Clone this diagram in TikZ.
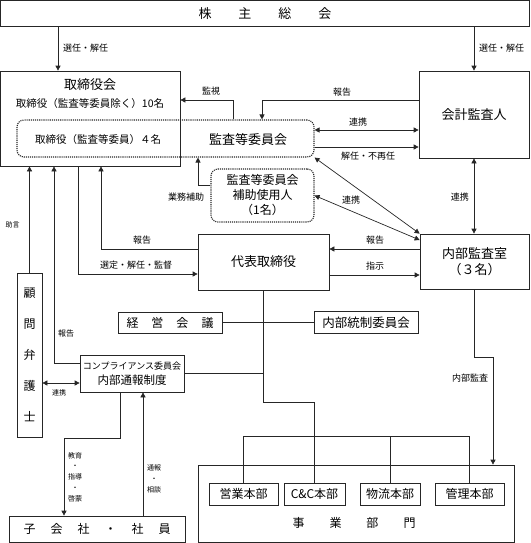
\documentclass[tikz,border=0pt]{standalone}
\usepackage{fontspec}
\setmainfont{Noto Sans CJK JP}
\usetikzlibrary{arrows.meta,calc,positioning}

\tikzset{
  box/.style={draw=black!85, line width=0.7pt, inner sep=0pt, align=center, font=\fontsize{13}{16}\selectfont},
  sbox/.style={box, minimum height=22, font=\fontsize{12}{14}\selectfont},
  dotbox/.style={draw=black!85, line width=1.1pt, densely dotted, rounded corners=7pt, inner sep=0pt, align=center},
  lbl/.style={inner sep=1pt, font=\fontsize{9}{11}\selectfont},
  slbl/.style={inner sep=1pt, align=center, font=\fontsize{7}{10.7}\selectfont},
  arr/.style={draw=black!85, line width=0.7pt, -{Triangle[length=5pt,width=5pt]}},
  darr/.style={draw=black!85, line width=0.7pt, {Triangle[length=5pt,width=5pt]}-{Triangle[length=5pt,width=5pt]}},
  ln/.style={draw=black!85, line width=0.7pt},
}

\begin{document}
\begin{tikzpicture}[x=1pt,y=-1pt]

\useasboundingbox (0,0) rectangle (530,543);

% boxes
\node[box, minimum width=529, minimum height=25.5] (kabu) at (265,13.25) {株\hspace{27pt}主\hspace{27pt}総\hspace{27pt}会};

\node[box, minimum width=179.5, minimum height=95] (tori) at (90.25,118.5) {};
\node[font=\fontsize{13}{15}\selectfont] (toriTitle) at (90,85) {取締役会};
\node[font=\fontsize{10.5}{12}\selectfont] (toriSub) at (90,104) {取締役（監査等委員除く）10名};

\node[dotbox, minimum width=297, minimum height=37] (kansa) at (165.5,138.5) {};
\node[font=\fontsize{10.5}{12}\selectfont] (kansaMem) at (98,140) {取締役（監査等委員）４名};
\node[font=\fontsize{13}{15}\selectfont] (kansaName) at (248,140) {監査等委員会};

\node[box, minimum width=110, minimum height=87] (kaikei) at (474,114.5) {会計監査人};
\node[box, minimum width=109, minimum height=55] (naibu) at (474.5,261.5) {内部監査室\\（３名）};

\node[dotbox, minimum width=103, minimum height=53, font=\fontsize{12}{15}\selectfont] (hojo) at (262.5,195.5) {監査等委員会\\補助使用人\\（1名）};

\node[box, minimum width=131, minimum height=56] (daihyo) at (263.5,262) {代表取締役};

\node[sbox, minimum width=104, minimum height=21] (keiei) at (170,322.5) {経\hspace{13pt}営\hspace{13pt}会\hspace{13pt}議};
\node[sbox, minimum width=104, font=\fontsize{12.5}{14}\selectfont] (tosei) at (366,322.5) {内部統制委員会};

\node[box, minimum width=104, minimum height=37, font=\fontsize{11.5}{15}\selectfont] (comp) at (132,373.5) {{\fontsize{9}{15}\selectfont コンプライアンス委員会}\\内部通報制度};

\node[box, minimum width=25, minimum height=164, font=\fontsize{12}{31}\selectfont] (bengo) at (29.5,355) {顧\\問\\弁\\護\\士};

\node[box, minimum width=316, minimum height=77] (jigyo) at (356,503.5) {};
\node[font=\fontsize{12}{14}\selectfont] (jigyoName) at (354,523) {事\hspace{25pt}業\hspace{25pt}部\hspace{25pt}門};
\node[sbox, minimum width=69] (eigyo) at (243.5,494) {営業本部};
\node[sbox, minimum width=61] (cc) at (314.5,494) {C\&C本部};
\node[sbox, minimum width=60] (butsu) at (390,494) {物流本部};
\node[sbox, minimum width=69] (kanri) at (469.5,494) {管理本部};

\node[box, minimum width=176, minimum height=26, font=\fontsize{12}{14}\selectfont] (kogai) at (97,529) {子\hspace{15pt}会\hspace{15pt}社\hspace{15pt}・\hspace{15pt}社\hspace{15pt}員};

% 株主総会
\draw[arr] (kabu.south -| 58,0) -- (tori.north -| 58,0);
\node[lbl, anchor=west] (l1) at (62,48) {選任・解任};
\draw[arr] (kabu.south -| kaikei.north) -- (kaikei.north);
\node[lbl, anchor=west] (l2) at (478,48) {選任・解任};

% 監査等委員会 / 会計監査人
\draw[arr] (kansa.north -| 233,0) |- (tori.east |- 0,100);
\node[lbl] (l3) at (211,91) {監視};
\draw[arr] (kaikei.west |- 0,100) -| (kansa.north -| 262,0);
\node[lbl] (l4) at (342,92) {報告};
\draw[darr] (kansa.east |- 0,130) -- (kaikei.west |- 0,130);
\node[lbl] (l5) at (358,122) {連携};
\draw[arr] (kansa.east |- 0,147) -- (kaikei.west |- 0,147);
\node[lbl] (l6) at (368,156) {解任・不再任};
\draw[darr] (kaikei.south) -- (kaikei.south |- naibu.north);
\node[lbl, anchor=east] (l7) at (470,197) {連携};

% 内部監査室 diagonals
\draw[darr] (kansa.south east) -- (naibu.north west);
\draw[darr] (hojo.east) -- (naibu.west |- 0,240);
\node[lbl] (l8) at (351,200) {連携};

\draw[arr] (hojo.west |- 0,185) -| (kansa.south -| 198,0);
\node[lbl] (l9) at (186,197) {業務補助};

% left side
\draw[arr] (bengo.north) -- (tori.south -| bengo.north);
\node[slbl] (l10) at (12.5,225) {助言};
\draw[arr] (comp.west |- 0,363) -| (tori.south -| 54,0);
\node[lbl, font=\fontsize{8}{10}\selectfont] (l11) at (66,333) {報告};
\draw[arr] (tori.south -| 78,0) |- (daihyo.west |- 0,274);
\node[lbl] (l12) at (136,265) {選定・解任・監督};
\draw[arr] (daihyo.west |- 0,249) -| (tori.south -| 101,0);
\node[lbl] (l13) at (142,240) {報告};

% 代表取締役 / 内部監査室
\draw[arr] (naibu.west |- 0,249) -- (daihyo.east |- 0,249);
\node[lbl] (l14) at (375,240) {報告};
\draw[arr] (daihyo.east |- 0,275) -- (naibu.west |- 0,275);
\node[lbl] (l15) at (375,266) {指示};

% 代表取締役 downwards
\draw[ln] (daihyo.south) |- (cc.north |- 0,402) -- (cc.north);
\draw[ln] (keiei.east) -- (tosei.west);
\draw[ln] (comp.east) -- (comp.east -| daihyo.south);
\draw[ln] (eigyo.north) |- (kanri.north |- 0,436) -- (kanri.north);
\draw[ln] (butsu.north) -- (butsu.north |- 0,436);

% 内部監査
\draw[arr] (naibu.south) |- (493,357) -- (jigyo.north -| 493,0);
\node[lbl] (l16) at (470,378) {内部監査};

% コンプライアンス
\draw[darr] (bengo.east |- 0,383) -- (comp.west |- 0,383);
\node[slbl] (l17) at (59,393) {連携};
\draw[arr] (comp.south -| 120,0) |- (64,438) -- (kogai.north -| 64,0);
\node[slbl] (l18) at (75,477) {教育\\・\\指導\\・\\啓蒙};
\draw[arr] (kogai.north -| 143,0) -- (comp.south -| 143,0);
\node[slbl] (l19) at (154,479) {通報\\・\\相談};

\end{tikzpicture}
\end{document}
